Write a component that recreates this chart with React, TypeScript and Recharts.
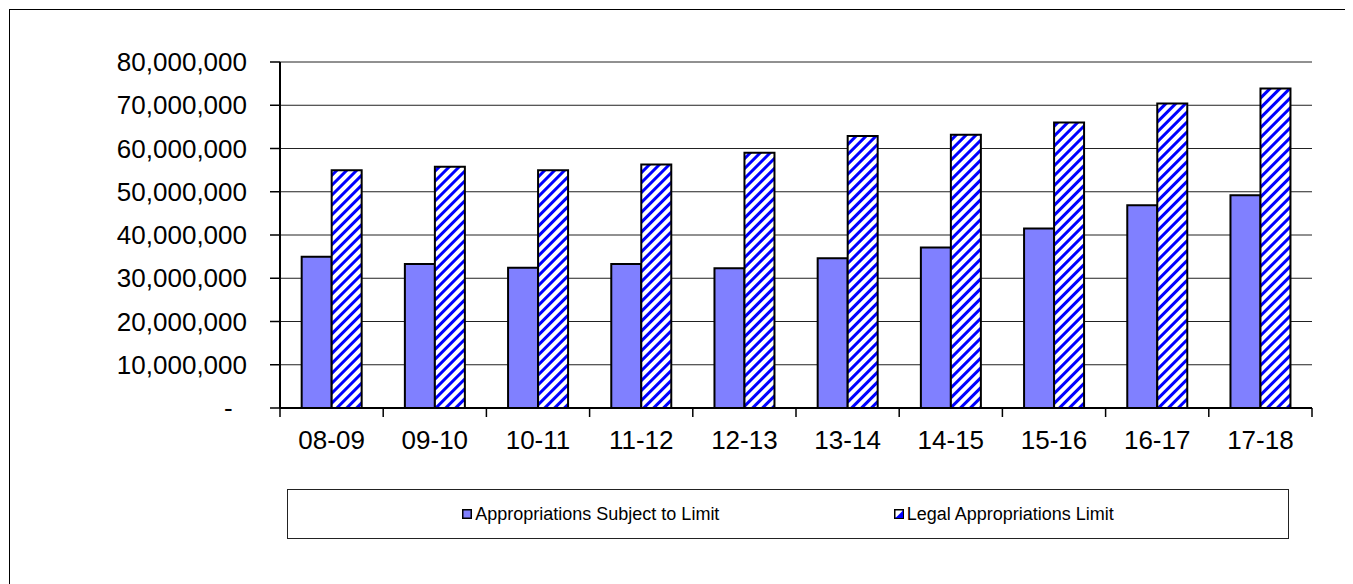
import { Bar, BarChart, CartesianGrid, XAxis, YAxis } from "recharts";

const years = ["08-09", "09-10", "10-11", "11-12", "12-13", "13-14", "14-15", "15-16", "16-17", "17-18"];
const subjectToLimit = [35000000, 33300000, 32400000, 33300000, 32300000, 34600000, 37100000, 41500000, 46900000, 49200000];
const legalLimit = [55000000, 55800000, 55000000, 56300000, 59000000, 62900000, 63200000, 66000000, 70400000, 73900000];
const yTicks = [0, 10000000, 20000000, 30000000, 40000000, 50000000, 60000000, 70000000, 80000000];

const seriesNames = ["Appropriations Subject to Limit", "Legal Appropriations Limit"];

const data = years.map((year, i) => ({
  year,
  subject: subjectToLimit[i],
  legal: legalLimit[i],
}));

const FONT = "'Liberation Sans', Arial, sans-serif";
const CHART_W = 1339;
const CHART_H = 470;
const MARGIN = { top: 52, right: 37, bottom: 42, left: 0 };
const PLOT_W = CHART_W - MARGIN.right - 270;
const BAND = PLOT_W / years.length;

function XTick(props: any) {
  const { x, y, payload, index } = props;
  return (
    <g>
      <line x1={x - BAND / 2} y1={y} x2={x - BAND / 2} y2={y + 9} stroke="#000" strokeWidth={1.5} />
      {index === years.length - 1 && (
        <line x1={x + BAND / 2} y1={y} x2={x + BAND / 2} y2={y + 9} stroke="#000" strokeWidth={1.5} />
      )}
      <text x={x} y={y + 41} textAnchor="middle" fontSize={26} fontFamily={FONT} fill="#000">
        {payload.value}
      </text>
    </g>
  );
}

const fmt = (v: number) => (v === 0 ? "-\u00A0\u00A0" : v.toLocaleString("en-US"));

function Legend() {
  return (
    <div
      style={{
        position: "absolute",
        left: 277,
        top: 479,
        width: 1000,
        height: 48,
        border: "1px solid #222",
        display: "flex",
        justifyContent: "space-evenly",
        alignItems: "center",
        fontSize: 18,
        fontFamily: FONT,
        color: "#000",
      }}
    >
      <div style={{ display: "flex", alignItems: "center" }}>
        <svg width={10} height={10} style={{ marginRight: 3 }}>
          <rect x={0.75} y={0.75} width={8.5} height={8.5} fill="#8080ff" stroke="#000" strokeWidth={1.5} />
        </svg>
        <span>{seriesNames[0]}</span>
      </div>
      <div style={{ display: "flex", alignItems: "center" }}>
        <svg width={10} height={10} style={{ marginRight: 3 }}>
          <rect x={0.75} y={0.75} width={8.5} height={8.5} fill="#fff" stroke="#000" strokeWidth={1.5} />
          <polygon points="9,1.5 9,9 1.5,9" fill="#0000ff" />
        </svg>
        <span>{seriesNames[1]}</span>
      </div>
    </div>
  );
}

export default function App() {
  return (
    <div
      style={{
        position: "relative",
        marginLeft: 1,
        marginTop: 1,
        width: CHART_W,
        height: 574,
        border: "1px solid #000",
        borderBottom: "none",
        background: "#fff",
        fontFamily: FONT,
      }}
    >
      <BarChart
        width={CHART_W}
        height={CHART_H}
        data={data}
        margin={MARGIN}
        barGap={0}
        barCategoryGap="21%"
      >
        <defs>
          <pattern id="hatch" patternUnits="userSpaceOnUse" width={7} height={7} patternTransform="rotate(45)">
            <rect x={0} y={0} width={7} height={7} fill="#fff" />
            <rect x={0} y={0} width={3} height={7} fill="#0000ff" />
          </pattern>
        </defs>
        <CartesianGrid vertical={false} stroke="#222" strokeWidth={1} />
        <XAxis
          dataKey="year"
          height={30}
          axisLine={{ stroke: "#000", strokeWidth: 2 }}
          tickLine={false}
          tickSize={0}
          tickMargin={0}
          interval={0}
          tick={<XTick />}
        />
        <YAxis
          width={270}
          domain={[0, 80000000]}
          ticks={yTicks}
          interval={0}
          tickFormatter={fmt}
          axisLine={{ stroke: "#000", strokeWidth: 2 }}
          tickLine={{ stroke: "#000", strokeWidth: 1.5 }}
          tickSize={10}
          tickMargin={23}
          tick={{ fontSize: 26, fill: "#000", fontFamily: FONT }}
        />
        <YAxis
          yAxisId="r"
          orientation="right"
          width={0}
          domain={[0, 80000000]}
          tick={false}
          tickLine={false}
          axisLine={{ stroke: "#000", strokeWidth: 2 }}
        />
        <Bar dataKey="subject" name={seriesNames[0]} fill="#8080ff" stroke="#000" strokeWidth={2} isAnimationActive={false} />
        <Bar dataKey="legal" name={seriesNames[1]} fill="url(#hatch)" stroke="#000" strokeWidth={2} isAnimationActive={false} />
      </BarChart>
      <Legend />
    </div>
  );
}
